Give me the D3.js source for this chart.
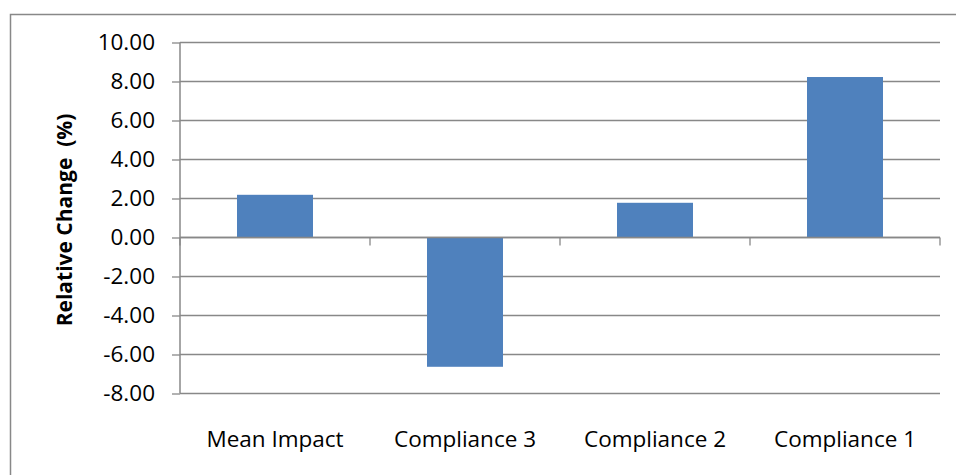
<!DOCTYPE html>
<html>
<head>
<meta charset="utf-8">
<script src="https://cdn.jsdelivr.net/npm/d3@7"></script>
<style>
  body { margin: 0; background: #fff; }
  svg text { font-family: "Open Sans", sans-serif; fill: #000; }
</style>
</head>
<body>
<svg id="chart" width="956" height="475"></svg>
<script>
// chart data
var categories = ["Mean Impact", "Compliance 3", "Compliance 2", "Compliance 1"];
var values = [2.19, -6.63, 1.78, 8.23];
var yTicks = [-8, -6, -4, -2, 0, 2, 4, 6, 8, 10];

var svg = d3.select("#chart");
var margin = {left: 180, top: 42.5, right: 16, bottom: 81.5};
var width = 956 - margin.left - margin.right,
    height = 475 - margin.top - margin.bottom;

// outer chart frame (runs off the right and bottom edge)
svg.append("rect")
  .attr("x", 10.5).attr("y", 14.5)
  .attr("width", 970).attr("height", 490)
  .attr("fill", "none").attr("stroke", "#888").attr("stroke-width", 1.5);

var x = d3.scaleBand().domain(categories).range([0, width]).paddingInner(0).paddingOuter(0);
var y = d3.scaleLinear().domain([-8, 10]).range([height, 0]);

var g = svg.append("g")
  .attr("transform", "translate(" + margin.left + "," + margin.top + ")");

// gridlines
g.selectAll(".grid").data(yTicks).enter().append("line")
  .attr("x1", 0).attr("x2", width)
  .attr("y1", function(d) { return y(d); })
  .attr("y2", function(d) { return y(d); })
  .attr("stroke", "#888").attr("stroke-width", 1.3);

// bars, width = 40% of band (gap 150%)
var bw = x.bandwidth() * 0.4;
g.selectAll(".bar").data(values).enter().append("rect")
  .attr("class", "bar")
  .attr("x", function(d, i) { return x(categories[i]) + (x.bandwidth() - bw) / 2; })
  .attr("width", bw)
  .attr("y", function(d) { return y(Math.max(0, d)); })
  .attr("height", function(d) { return Math.abs(y(d) - y(0)); })
  .attr("fill", "#4f81bd");

// y axis
var yAxis = g.append("g")
  .call(d3.axisLeft(y).tickValues(yTicks).tickSize(8).tickPadding(17)
    .tickFormat(function(d) { return d.toFixed(2); }));
yAxis.select(".domain").attr("stroke", "#888").attr("stroke-width", 1.5)
  .attr("d", "M0," + y(-8) + "V" + y(10));
yAxis.selectAll(".tick line").attr("stroke", "#888").attr("stroke-width", 1.3);
yAxis.selectAll("text").attr("font-size", 22.5).attr("font-family", "'Open Sans', sans-serif");

// x axis on the zero line, ticks at category boundaries
var xAxis = g.append("g").attr("transform", "translate(0," + y(0) + ")");
xAxis.append("line").attr("x1", 0).attr("x2", width)
  .attr("stroke", "#888").attr("stroke-width", 1.5);
xAxis.selectAll(".xt").data(categories.concat(["end"])).enter().append("line")
  .attr("x1", function(d, i) { return i * x.step(); })
  .attr("x2", function(d, i) { return i * x.step(); })
  .attr("y1", 0).attr("y2", 8)
  .attr("stroke", "#888").attr("stroke-width", 1.3);

// category labels below the plot
g.selectAll(".cat").data(categories).enter().append("text")
  .attr("x", function(d) { return x(d) + x.bandwidth() / 2; })
  .attr("y", height + 53)
  .attr("text-anchor", "middle")
  .attr("font-size", 22.5)
  .text(function(d) { return d; });

// y axis title
svg.append("text")
  .attr("transform", "translate(72,220) rotate(-90)")
  .attr("text-anchor", "middle")
  .attr("font-size", 21)
  .attr("font-weight", "bold")
  .attr("xml:space", "preserve")
  .text("Relative Change  (%)");
</script>
</body>
</html>
